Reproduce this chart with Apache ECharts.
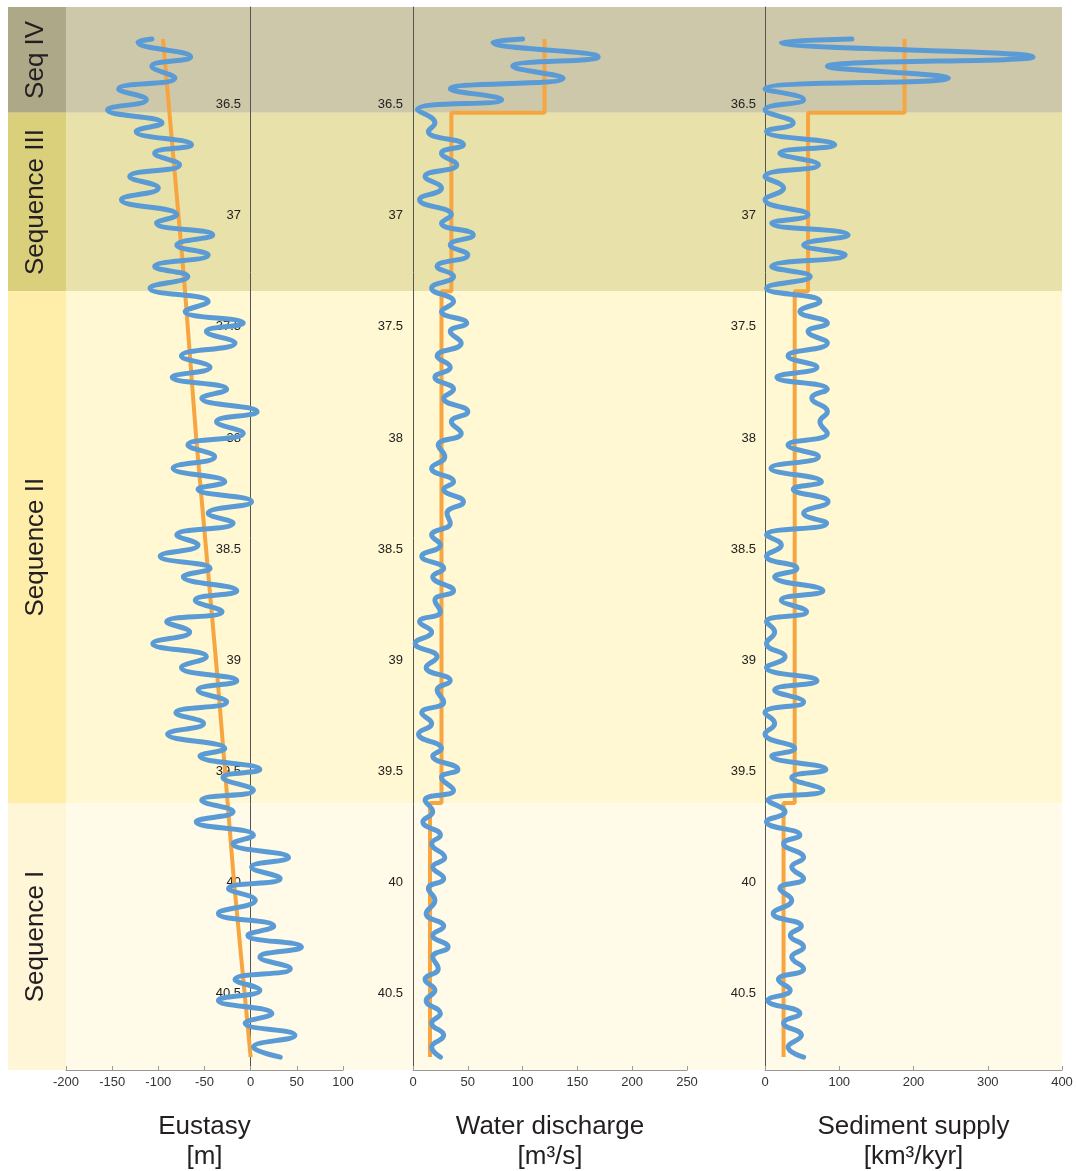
<!DOCTYPE html>
<html><head><meta charset="utf-8">
<script src="https://cdn.jsdelivr.net/npm/echarts@6/dist/echarts.min.js"></script>
<style>html,body{margin:0;padding:0;background:#fff}#c{width:1078px;height:1171px}</style>
</head><body><div id="c"></div>
<script>
// ---- data (age in Ma) ----
const ages = [36.204,36.219,36.285,36.327,36.380,36.429,36.477,36.523,36.582,36.620,
36.680,36.718,36.770,36.823,36.875,36.928,36.995,37.033,37.086,37.131,
37.176,37.228,37.273,37.326,37.386,37.431,37.483,37.521,37.573,37.631,
37.682,37.727,37.781,37.821,37.882,37.927,37.979,38.032,38.084,38.136,
38.197,38.231,38.287,38.339,38.384,38.437,38.482,38.532,38.587,38.625,
38.688,38.730,38.782,38.827,38.873,38.925,38.985,39.033,39.093,39.135,
39.188,39.237,39.285,39.333,39.398,39.432,39.492,39.528,39.586,39.631,
39.683,39.728,39.788,39.826,39.889,39.931,39.983,40.028,40.081,40.141,
40.198,40.239,40.291,40.336,40.389,40.438,40.486,40.532,40.591,40.634,
40.689,40.742,40.787];
const eustasy = [-107,-122,-65,-107,-82,-143,-113,-155,-96,-124,
-64,-104,-77,-131,-100,-140,-80,-102,-41,-80,
-46,-104,-68,-109,-46,-71,-8,-48,-17,-75,
-44,-85,-26,-53,7,-37,-8,-68,-39,-84,
-28,-57,1,-46,-19,-80,-57,-98,-44,-73,
-15,-60,-31,-91,-66,-106,-48,-75,-15,-57,
-26,-81,-51,-90,-28,-55,10,-30,3,-53,
-19,-59,3,-19,41,1,32,-24,5,-35,
25,-3,55,10,43,-17,10,-35,23,-6,
48,3,32];
const discharge = [100,73,169,91,137,34,81,4,20,14,
46,26,40,11,26,6,35,26,55,34,
50,22,37,17,37,26,49,34,44,22,
34,20,37,28,50,35,44,23,29,17,
37,28,46,31,34,17,25,8,28,18,
37,20,25,6,17,2,22,12,34,22,
28,8,17,5,26,18,41,26,37,11,
18,9,25,17,29,18,28,14,20,12,
28,18,32,18,23,11,20,12,25,17,
28,17,25];
const supply = [117,22,361,84,247,0,52,0,38,2,
94,20,72,0,25,0,58,9,112,52,
108,9,61,2,74,47,84,58,84,31,
70,16,84,63,84,74,84,31,72,8,
76,38,85,52,83,2,22,2,43,13,
78,22,56,2,13,2,27,2,70,13,
52,0,13,0,40,9,82,36,78,4,
27,2,47,25,52,36,52,20,36,11,
49,34,52,36,52,18,34,4,47,25,
49,31,52];
const eustasyTrendAges = [36.204, 37.29, 38.0, 39.075, 40.0, 40.787];
const eustasyTrend = [-95, -72, -59, -36, -18, 0];
const seqNames = ['Seq IV', 'Sequence III', 'Sequence II', 'Sequence I'];
const seqTops = [36.06, 36.536, 37.34, 39.643];
const seqBottoms = [36.536, 37.34, 39.643, 40.845];
const dischargeLevels = [120, 35, 26, 15.5];
const supplyLevels = [188, 58, 40, 25];
const trendStart = 36.204, trendEnd = 40.787;
const ageTicks = [36.5, 37, 37.5, 38, 38.5, 39, 39.5, 40, 40.5];

// ---- styles ----
const bandColors = ['#CDC8AA', '#E8E2AA', '#FFF8D2', '#FFFBE8'];
const colColors = ['#ACA888', '#DAD07C', '#FFEEAA', '#FFF5D7'];
const BLUE = '#5B9BD5', ORANGE = '#F6A540';
const FONT = "'Liberation Sans', Arial, sans-serif";
const labelColW = 58;
const AGE_MIN = 36.06, AGE_MAX = 40.845;

function pairs(vals) { return vals.map((v, i) => [v, ages[i]]); }
function steps(levels) {
  const starts = [trendStart, seqTops[1], seqTops[2], seqTops[3]];
  const ends = [seqTops[1], seqTops[2], seqTops[3], trendEnd];
  const pts = [];
  levels.forEach((v, i) => { pts.push([v, starts[i]]); pts.push([v, ends[i]]); });
  return pts;
}

const chart = echarts.init(document.getElementById('c'), null, {renderer: 'canvas'});
const grids = [
  {left: 8, top: 7, width: 1054, height: 1063, outerBoundsMode: 'none', containLabel: false},
  {left: 66, top: 7, width: 277, height: 1063, outerBoundsMode: 'none', containLabel: false},
  {left: 413, top: 7, width: 274, height: 1063, outerBoundsMode: 'none', containLabel: false},
  {left: 765, top: 7, width: 297, height: 1063, outerBoundsMode: 'none', containLabel: false}
];
function xAx(gi, min, max, interval, name) {
  return {
    gridIndex: gi, type: 'value', min, max, interval,
    name, nameLocation: 'middle', nameGap: 42,
    nameTextStyle: {fontSize: 26, lineHeight: 30, color: '#231f20', fontFamily: FONT},
    axisLine: {show: true, onZero: false, lineStyle: {color: '#999', width: 1}},
    axisTick: {show: true, inside: true, length: 4, lineStyle: {color: '#999'}},
    axisLabel: {fontSize: 13, color: '#333', margin: 6, fontFamily: FONT},
    splitLine: {show: false}
  };
}
function yAx(gi, margin) {
  return {
    gridIndex: gi, type: 'value', min: AGE_MIN, max: AGE_MAX, inverse: true,
    axisLine: {show: true, onZero: true, lineStyle: {color: '#555', width: 1}},
    axisTick: {show: false},
    axisLabel: {customValues: ageTicks, fontSize: 13, color: '#222', margin, fontFamily: FONT},
    splitLine: {show: false}
  };
}
const option = {
  animation: false,
  backgroundColor: '#fff',
  grid: grids,
  xAxis: [
    {gridIndex: 0, type: 'value', min: 0, max: 1, show: false},
    xAx(1, -200, 100, 50, 'Eustasy\n[m]'),
    xAx(2, 0, 250, 50, 'Water discharge\n[m³/s]'),
    xAx(3, 0, 400, 100, 'Sediment supply\n[km³/kyr]')
  ],
  yAxis: [
    {gridIndex: 0, type: 'value', min: AGE_MIN, max: AGE_MAX, inverse: true, show: false},
    yAx(1, -175), yAx(2, 10), yAx(3, 9)
  ],
  series: [
    {
      type: 'custom', xAxisIndex: 0, yAxisIndex: 0, z: -5, silent: true,
      data: seqTops.map((t, i) => [0, t, seqBottoms[i], i]),
      encode: {x: 0, y: [1, 2]},
      renderItem(params, api) {
        const i = api.value(3);
        const p0 = api.coord([0, api.value(1)]);
        const p1 = api.coord([1, api.value(2)]);
        const h = p1[1] - p0[1];
        return {
          type: 'group',
          children: [
            {type: 'rect', shape: {x: p0[0], y: p0[1], width: p1[0] - p0[0], height: h}, style: {fill: bandColors[i]}},
            {type: 'rect', shape: {x: p0[0], y: p0[1], width: labelColW, height: h}, style: {fill: colColors[i]}},
            {type: 'text', x: p0[0] + labelColW / 2 - 1, y: p0[1] + h / 2, rotation: Math.PI / 2,
             style: {text: seqNames[i], fill: '#231f20', fontSize: 26, fontFamily: FONT, align: 'center', verticalAlign: 'middle'}}
          ]
        };
      }
    },
    {type: 'line', xAxisIndex: 1, yAxisIndex: 1, z: 3, data: eustasyTrend.map((v, i) => [v, eustasyTrendAges[i]]),
     showSymbol: false, smooth: false, clip: false, lineStyle: {color: ORANGE, width: 4}},
    {type: 'line', xAxisIndex: 1, yAxisIndex: 1, z: 4, data: pairs(eustasy),
     showSymbol: false, smooth: 0.5, clip: false, lineStyle: {color: BLUE, width: 5, cap: 'round', join: 'round'}},
    {type: 'line', xAxisIndex: 2, yAxisIndex: 2, z: 3, data: steps(dischargeLevels),
     showSymbol: false, clip: false, lineStyle: {color: ORANGE, width: 4}},
    {type: 'line', xAxisIndex: 2, yAxisIndex: 2, z: 4, data: pairs(discharge),
     showSymbol: false, smooth: 0.5, clip: false, lineStyle: {color: BLUE, width: 5, cap: 'round', join: 'round'}},
    {type: 'line', xAxisIndex: 3, yAxisIndex: 3, z: 3, data: steps(supplyLevels),
     showSymbol: false, clip: false, lineStyle: {color: ORANGE, width: 4}},
    {type: 'line', xAxisIndex: 3, yAxisIndex: 3, z: 4, data: pairs(supply),
     showSymbol: false, smooth: 0.5, clip: false, lineStyle: {color: BLUE, width: 5, cap: 'round', join: 'round'}}
  ]
};
chart.setOption(option);
</script></body></html>
